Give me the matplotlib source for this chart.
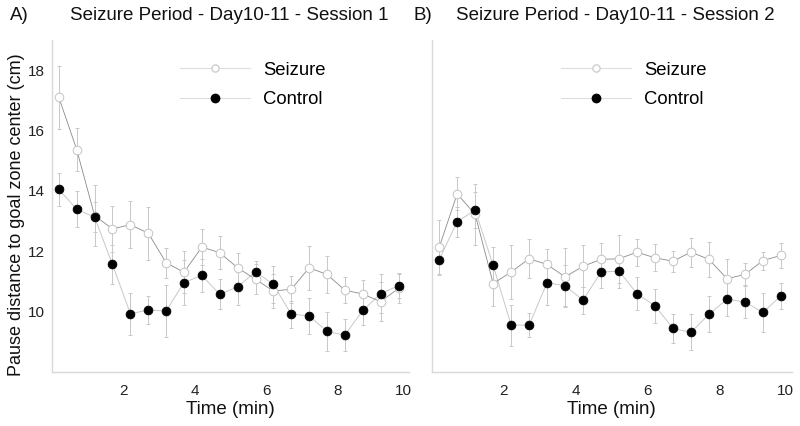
import matplotlib
matplotlib.use("Agg")
import matplotlib.pyplot as plt
import matplotlib.transforms as mtransforms
from matplotlib.lines import Line2D

plt.rcParams["font.family"] = ["Liberation Sans", "DejaVu Sans"]

# time bins (min)
times = [0.2, 0.7, 1.2, 1.7, 2.2, 2.7, 3.2, 3.7, 4.2, 4.7,
         5.2, 5.7, 6.2, 6.7, 7.2, 7.7, 8.2, 8.7, 9.2, 9.7]

# Session 1
s1_seizure = [17.1, 15.37, 13.18, 12.74, 12.88, 12.6, 11.62, 11.3, 12.14, 11.95,
              11.45, 11.07, 10.68, 10.74, 11.45, 11.23, 10.71, 10.58, 10.33, 10.77]
s1_seizure_err = [1.05, 0.72, 1.0, 0.75, 0.77, 0.88, 0.5, 0.7, 0.6, 0.55,
                  0.5, 0.5, 0.55, 0.45, 0.72, 0.6, 0.42, 0.47, 0.65, 0.5]
s1_control = [14.05, 13.39, 13.13, 11.56, 9.93, 10.05, 10.02, 10.96, 11.2, 10.57,
              10.82, 11.32, 10.9, 9.91, 9.86, 9.34, 9.22, 10.04, 10.59, 10.86]
s1_control_err = [0.55, 0.6, 0.5, 0.65, 0.7, 0.45, 0.85, 0.75, 0.55, 0.5,
                  0.6, 0.35, 0.6, 0.45, 0.6, 0.65, 0.52, 0.5, 0.65, 0.4]

# Session 2
s2_seizure = [12.13, 13.9, 13.22, 10.93, 11.31, 11.75, 11.56, 11.15, 11.5, 11.73,
              11.75, 11.97, 11.78, 11.67, 11.97, 11.73, 11.09, 11.23, 11.69, 11.86]
s2_seizure_err = [0.9, 0.55, 1.0, 0.75, 0.9, 0.65, 0.5, 0.95, 0.7, 0.55,
                  0.8, 0.45, 0.45, 0.35, 0.48, 0.58, 0.65, 0.38, 0.3, 0.42]
s2_control = [11.72, 12.98, 13.36, 11.53, 9.55, 9.55, 10.96, 10.85, 10.38, 11.31,
              11.34, 10.59, 10.19, 9.44, 9.31, 9.91, 10.41, 10.32, 9.97, 10.52]
s2_control_err = [0.5, 0.5, 0.6, 0.62, 0.68, 0.4, 0.75, 0.7, 0.45, 0.52,
                  0.55, 0.55, 0.56, 0.47, 0.6, 0.6, 0.57, 0.55, 0.66, 0.44]

panels = [
    ("A)", "Seizure Period - Day10-11 - Session 1", s1_seizure, s1_seizure_err, s1_control, s1_control_err),
    ("B)", "Seizure Period - Day10-11 - Session 2", s2_seizure, s2_seizure_err, s2_control, s2_control_err),
]
x_ticks = [2, 4, 6, 8, 10]

AXIS_C = "#d9d9d9"
ERR_C = "#c8c8c8"
SEIZ_LINE = "#8a8a8a"
CTRL_LINE = "#c8c8c8"

fig = plt.figure(figsize=(8, 4.26), dpi=100)
ax_boxes = [[0.0646, 0.127, 0.447, 0.779], [0.540, 0.127, 0.4496, 0.779]]
letter_x = [10 / 800, 414 / 800]
title_x = [70 / 800, 456 / 800]

for i, (letter, title, seiz, seiz_err, ctrl, ctrl_err) in enumerate(panels):
    ax = fig.add_axes(ax_boxes[i])
    ax.errorbar(times, seiz, yerr=seiz_err, fmt="none", ecolor=ERR_C,
                elinewidth=0.7, capsize=1.5, capthick=0.7, zorder=1)
    ax.errorbar(times, ctrl, yerr=ctrl_err, fmt="none", ecolor=ERR_C,
                elinewidth=0.7, capsize=1.5, capthick=0.7, zorder=1)
    ax.plot(times, ctrl, color=CTRL_LINE, lw=0.7, zorder=2)
    ax.plot(times, seiz, color=SEIZ_LINE, lw=0.6, zorder=3)
    ax.plot(times, seiz, ls="none", marker="o", ms=6.2, mfc="white",
            mec="#c4c4c4", mew=0.7, zorder=4)
    ax.plot(times, ctrl, ls="none", marker="o", ms=6.4, mfc="black",
            mec="black", mew=0.5, zorder=5)

    ax.set_xlim(0, 10)
    ax.set_ylim(8, 19)
    ax.set_xticks(x_ticks)
    ax.set_yticks([10, 12, 14, 16, 18])
    ax.tick_params(length=0, labelsize=11, colors="#222222")
    ax.tick_params(axis="x", pad=9)
    ax.tick_params(axis="y", pad=5)
    for side in ("top", "right"):
        ax.spines[side].set_visible(False)
    for side in ("left", "bottom"):
        ax.spines[side].set_color(AXIS_C)
        ax.spines[side].set_linewidth(1.0)
    if i == 1:
        ax.set_yticklabels([])
    # last tick label sits a little inside the axis end
    last = ax.get_xticklabels()[-1]
    last.set_transform(last.get_transform() +
                       mtransforms.ScaledTranslation(-6 / 100, 0, fig.dpi_scale_trans))
    ax.set_xlabel("Time (min)", fontsize=13.5, labelpad=2, color="#111111")

    handles = [
        Line2D([], [], color="#dddddd", lw=0.8, marker="o", ms=5.2, mfc="white", mec="#cfcfcf"),
        Line2D([], [], color="#dddddd", lw=0.8, marker="o", ms=6, mfc="black", mec="black"),
    ]
    ax.legend(handles, ["Seizure", "Control"], loc="upper left",
              bbox_to_anchor=(0.358, 0.935), frameon=False, fontsize=13.3,
              handlelength=3.8, handletextpad=0.7, labelspacing=0.68,
              borderpad=0, borderaxespad=0)

    fig.text(letter_x[i], 0.963, letter, fontsize=13.5, va="center", color="#111111")
    fig.text(title_x[i], 0.963, title, fontsize=13.5, va="center", color="#111111")

fig.text(17 / 800, 0.495, "Pause distance to goal zone center (cm)",
         rotation=90, fontsize=13, va="center", ha="center", color="#111111")

fig.savefig("out.png", dpi=100)
